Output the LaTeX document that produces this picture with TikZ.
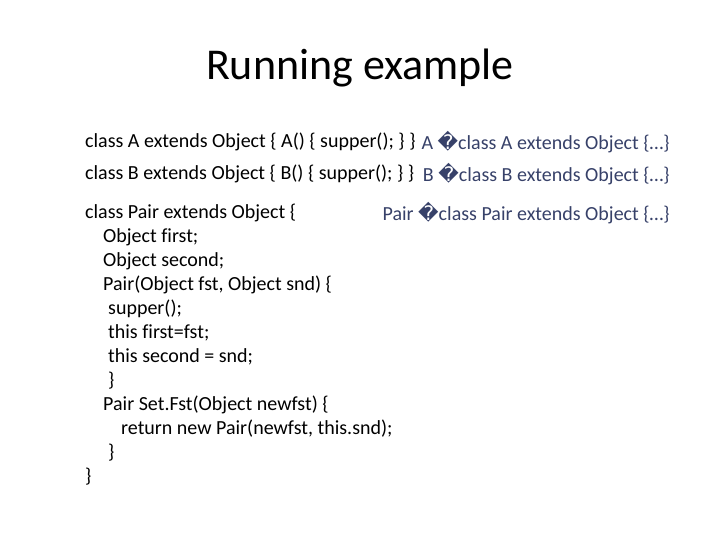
\documentclass[tikz,border=0pt]{standalone}
\usepackage{fontspec}
\setmainfont[Ligatures=NoCommon]{Carlito}
\newfontfamily\dvs{DejaVu Sans}
\definecolor{rcol}{RGB}{55,65,105}
\begin{document}
\begin{tikzpicture}[x=1pt,y=-1pt,
  txt/.style={anchor=west,inner sep=0pt,font=\fontsize{20}{22}\selectfont},
  rtxt/.style={anchor=east,inner sep=0pt,font=\fontsize{20}{22}\selectfont,text=rcol}]
\useasboundingbox (0,0) rectangle (720,540);
\node[inner sep=0pt,font=\fontsize{44}{48}\selectfont] (title) at (360,68) {Running example};
\node[txt] (l1) at (85,142) {class A extends Object \{ A() \{ supper(); \} \}};
\node[txt] (l2) at (85,174) {class B extends Object \{ B() \{ supper(); \} \}};
\node[txt] (l3) at (85,213) {class Pair extends Object \{};
\node[txt] (l4) at (103,237) {Object first;};
\node[txt] (l5) at (103,261) {Object second;};
\node[txt] (l6) at (103,285) {Pair(Object fst, Object snd) \{};
\node[txt] (l7) at (108,309) {supper();};
\node[txt] (l8) at (108,333) {this first=fst;};
\node[txt] (l9) at (108,357) {this second = snd;};
\node[txt] (l10) at (108,381) {\}};
\node[txt] (l11) at (103,405) {Pair Set.Fst(Object newfst) \{};
\node[txt] (l12) at (121,429) {return new Pair(newfst, this.snd);};
\node[txt] (l13) at (108,453) {\}};
\node[txt] (l14) at (85,477) {\}};
\node[rtxt] (r1) at (670,142) {A {\dvs\char"FFFD}class A extends Object \{…\}};
\node[rtxt] (r2) at (670,174) {B {\dvs\char"FFFD}class B extends Object \{…\}};
\node[rtxt] (r3) at (670,213) {Pair {\dvs\char"FFFD}class Pair extends Object \{…\}};
\end{tikzpicture}
\end{document}
